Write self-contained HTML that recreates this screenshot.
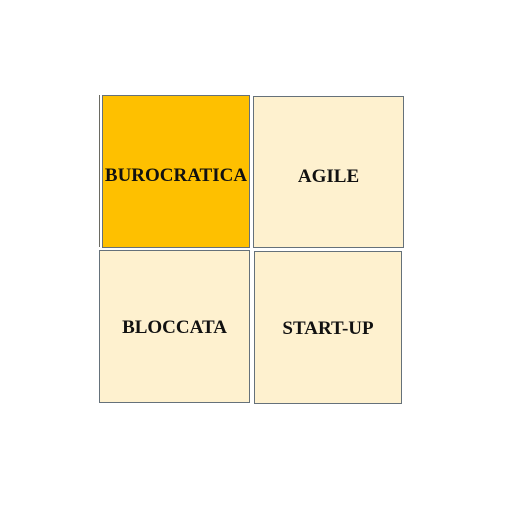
<!DOCTYPE html>
<html><head><style>
body{margin:0;width:520px;height:527px;background:#fff;position:relative;overflow:hidden}
.b{position:absolute;box-sizing:border-box;border:1px solid #65717a;background:#fef1cf;display:flex;align-items:center;justify-content:center;font-family:"Liberation Serif",serif;font-weight:bold;font-size:19px;color:#111;padding-top:9px}
.l{padding-top:2px}
</style></head><body>
<div style="position:absolute;left:99px;top:95px;width:1px;height:152px;background:#6a6a62"></div>
<div class="b" style="left:102px;top:95px;width:148px;height:153px;background:#fec000;">BUROCRATICA</div>
<div class="b" style="left:253px;top:96px;width:151px;height:152px">AGILE</div>
<div class="b l" style="left:99px;top:250px;width:151px;height:153px">BLOCCATA</div>
<div class="b l" style="left:254px;top:251px;width:148px;height:153px">START-UP</div>
</body></html>
